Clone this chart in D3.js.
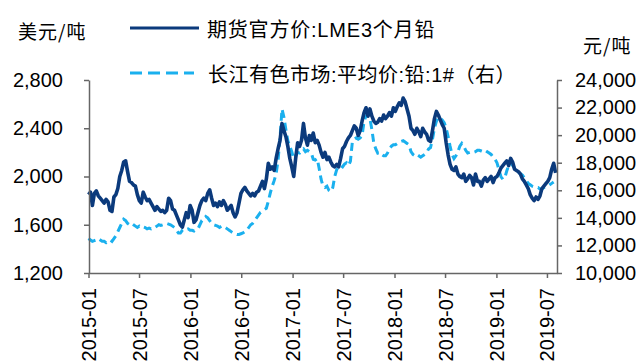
<!DOCTYPE html>
<html><head><meta charset="utf-8">
<script src="https://cdn.jsdelivr.net/npm/d3@7"></script>
<style>html,body{margin:0;padding:0;background:#fff}svg{display:block}</style>
</head><body>
<svg id="chart" width="641" height="364"></svg>
<script>
// ---- data (weekly readings, first point 2015-01-01, one point every 7 days) ----
const startDate = "2015-01-01";
const stepDays = 7;
const seriesNames = ["期货官方价:LME3个月铅", "长江有色市场:平均价:铅:1#（右）"];
const leftUnit = "美元/吨";
const rightUnit = "元/吨";

// LME 3-month lead, USD/t
const lmeValues = [
  // 2015
  1850,1870,1760,1860, 1880,1840,1820,1800, 1780,1810,1790,1720,1710,
  1830,1850,1900,2000,2050, 2120,2130,2040,1960, 1950,1930,1920,1850,1800,
  1780,1870,1830,1800, 1810,1780,1750,1720, 1750,1730,1710,1720,1700,
  1720,1820,1800,1730, 1720,1680,1640,1600, 1580,1640,1700,1660,1760,
  // 2016
  1720,1620,1640,1700, 1760,1800,1820,1800, 1860,1890,1820,1760,1780,
  1750,1790,1760,1800, 1770,1720,1740,1760, 1700,1665,1700,1780,1860,
  1890,1910,1880,1860, 1840,1860,1840,1870, 1880,1920,1960,1900,1980,
  2110,2060,2080,2050, 2150,2230,2300,2440, 2380,2330,2250,2150,2080,
  // 2017
  2000,2150,2280,2250, 2300,2440,2320,2260, 2340,2300,2360,2280,2300,
  2260,2200,2160,2200, 2140,2160,2120,2090, 2080,2100,2080,2150,2230,
  2250,2290,2320,2340, 2380,2420,2400,2340, 2380,2460,2530,2570,2500,
  2560,2500,2460,2440, 2450,2480,2460,2510, 2480,2500,2530,2500,2570,
  // 2018
  2540,2580,2610,2590, 2650,2620,2560,2500, 2400,2380,2350,2400,2370,
  2330,2400,2370,2350, 2300,2290,2380,2480, 2540,2510,2470,2430,2400,
  2280,2180,2100,2060, 2050,2080,2020,2000, 1990,2020,1960,1980,2010,
  1990,1930,2020,1960, 1960,1920,1970,1990, 1960,1980,2000,1950,1990,
  // 2019
  2000,2030,2070,2090, 2110,2130,2090,2150, 2120,2060,2050,2040,2020,
  1980,1960,1930,1900, 1850,1820,1800,1830, 1810,1840,1900,1920,1940,
  1960,1990,2060,2110, 2030
];

// Changjiang non-ferrous market 1# lead average price, CNY/t
const smmValues = [
  // 2015
  12500,12400,12300,12350, 12400,12500,12400,12300, 12300,12200,12300,12400,12300,
  12500,12700,13000,13300,13600, 13900,13800,13600,13500, 13600,13500,13400,13300,13400,
  13300,13350,13300,13200, 13250,13200,13300,13300, 13400,13500,13450,13500,13550,
  13600,13550,13500,13400, 13300,13100,12900,12900, 13100,13200,13150,13200,13100,
  // 2016
  13100,13050,13150,13200, 13500,13800,13900,14100, 14000,13800,13600,13500,13450,
  13400,13300,13400,13300, 13300,13200,13100,13000, 12900,12850,12800,12800,12850,
  12900,13000,13100,13300, 13500,13600,13800,14000, 14200,14400,14500,14600,14700,
  15200,15800,16300,16700, 17200,18200,19800,21900, 21300,20400,19600,19200,18800,
  // 2017
  18300,18500,18750,18700, 18900,19000,18800,18900, 18800,18700,18250,18200,18300,
  17600,16800,16300,16200, 16300,16000,15900,16200, 17000,17500,17700,17800,17700,
  17900,18000,17800,18100, 19500,19700,19800,19700, 19800,20000,21000,21400,21500,
  21200,20400,19400,19000, 18700,18750,18600,18500, 18500,18700,19000,19200,19300,
  // 2018
  19300,19400,19500,19550, 19600,19500,19400,19300, 18800,18600,18500,18600,18500,
  18400,18500,18600,18700, 19000,19100,19700,20500, 21000,21300,21200,21100,20900,
  20500,19900,19200,18600, 18300,18500,18800,19200, 19400,19200,18900,18700,18750,
  18800,18750,18800,18900, 18900,18850,18800,18900, 18800,18700,18600,18400,18250,
  // 2019
  18000,17500,17000,16800, 16900,17400,17800,18000, 17800,17600,17400,17300,17200,
  17100,16900,16700,16500, 16400,16300,16250,16200, 16200,16100,16100,16200,16250,
  16300,16400,16500,16600
];

const leftTicks = [1200, 1600, 2000, 2400, 2800];
const rightTicks = [10000, 12000, 14000, 16000, 18000, 20000, 22000, 24000];
const xTickLabels = ["2015-01","2015-07","2016-01","2016-07","2017-01","2017-07","2018-01","2018-07","2019-01","2019-07"];

// ---- build ----
const parseDay = d3.timeParse("%Y-%m-%d");
const parseMonth = d3.timeParse("%Y-%m");
const t0 = parseDay(startDate);
const lmeData = lmeValues.map((v, i) => ({date: d3.timeDay.offset(t0, i * stepDays), v}));
const smmData = smmValues.map((v, i) => ({date: d3.timeDay.offset(t0, i * stepDays), v}));

const svg = d3.select("#chart");
const FONT = "'Liberation Sans', Arial, 'Noto Sans CJK SC', sans-serif";
const CJK = "'Noto Sans CJK SC', 'Liberation Sans', sans-serif";

const x = d3.scaleTime().domain([parseDay("2015-01-01"), parseDay("2019-08-06")]).range([88.5, 557]);
const yL = d3.scaleLinear().domain([1200, 2800]).range([273, 80]);
const yR = d3.scaleLinear().domain([10000, 24000]).range([273, 80]);

const axisColor = "#666";

// lines
const lineL = d3.line().x(d => x(d.date)).y(d => yL(d.v));
const lineR = d3.line().x(d => x(d.date)).y(d => yR(d.v));

svg.append("path").datum(smmData)
  .attr("d", lineR).attr("fill", "none")
  .attr("stroke", "#1ab0ee").attr("stroke-width", 3)
  .attr("stroke-dasharray", "8,5");

svg.append("path").datum(lmeData)
  .attr("d", lineL).attr("fill", "none")
  .attr("stroke", "#0b3a7c").attr("stroke-width", 3.6)
  .attr("stroke-linejoin", "round");

// axes
const fmt = d3.format(",");
const gL = svg.append("g").attr("transform", "translate(89,0)")
  .call(d3.axisLeft(yL).tickValues(leftTicks).tickFormat(fmt).tickSize(5).tickSizeOuter(0).tickPadding(21));
const gR = svg.append("g").attr("transform", "translate(557,0)")
  .call(d3.axisRight(yR).tickValues(rightTicks).tickFormat(fmt).tickSize(5).tickSizeOuter(0).tickPadding(13));
const gB = svg.append("g").attr("transform", "translate(0,273)")
  .call(d3.axisBottom(x).tickValues(xTickLabels.map(parseMonth)).tickFormat(d3.timeFormat("%Y-%m")).tickSize(5).tickSizeOuter(0));

[gL, gR, gB].forEach(g => {
  g.select(".domain").attr("stroke", axisColor).attr("stroke-width", 1.5);
  g.selectAll(".tick line").attr("stroke", axisColor).attr("stroke-width", 1.5);
  g.selectAll("text").attr("font-family", FONT).attr("font-size", 20).attr("fill", "#000");
});
gB.selectAll("text")
  .attr("transform", "rotate(-90)")
  .attr("text-anchor", "end")
  .attr("x", -15).attr("y", 0).attr("dy", "0.35em");

// units
svg.append("text").attr("x", 18).attr("y", 30).attr("dominant-baseline", "central")
  .attr("font-family", CJK).attr("font-size", 19).attr("letter-spacing", 1).text(leftUnit);
svg.append("text").attr("x", 583).attr("y", 44).attr("dominant-baseline", "central")
  .attr("font-family", CJK).attr("font-size", 19).attr("letter-spacing", 1).text(rightUnit);

// legend
const legend = svg.append("g");
legend.append("line").attr("x1", 130).attr("x2", 199).attr("y1", 28).attr("y2", 28)
  .attr("stroke", "#0b3a7c").attr("stroke-width", 3);
legend.append("text").attr("x", 207).attr("y", 30).attr("dominant-baseline", "central")
  .attr("font-family", FONT).attr("font-size", 20).attr("letter-spacing", 0.8).text(seriesNames[0]);
legend.append("line").attr("x1", 130).attr("x2", 194).attr("y1", 73).attr("y2", 73)
  .attr("stroke", "#1ab0ee").attr("stroke-width", 3).attr("stroke-dasharray", "12,6");
legend.append("text").attr("x", 208).attr("y", 75).attr("dominant-baseline", "central")
  .attr("font-family", FONT).attr("font-size", 20).attr("letter-spacing", 0.5).text(seriesNames[1]);
</script>
</body></html>
